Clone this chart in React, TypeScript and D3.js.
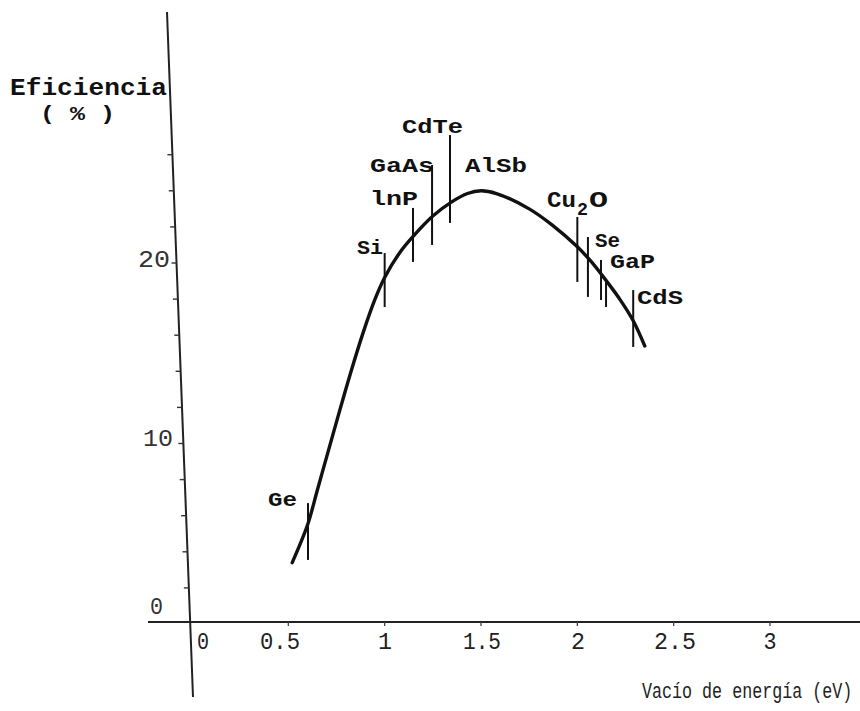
import React from 'react';
import * as d3 from 'd3';

// ---------- data ----------
const xTickValues = [0, 0.5, 1, 1.5, 2, 2.5, 3];
const xTickLabels = ['0', '0.5', '1', '1.5', '2', '2.5', '3'];
const yTickValues = [2, 4, 6, 8, 10, 12, 14, 16, 18, 20, 22, 24, 26];
const yLabelValues = [0, 10, 20];
const yLabelTexts = ['0', '10', '20'];

// efficiency curve (band gap eV, efficiency %)
const curveGap = [0.52, 0.6, 0.65, 0.7, 0.75, 0.82, 0.89, 0.95, 1.0, 1.08, 1.15, 1.25, 1.35, 1.43, 1.5, 1.58, 1.75, 1.87, 2.0, 2.07, 2.13, 2.22, 2.29, 2.35];
const curveEff = [3.4, 5.5, 7.4, 9.3, 11.2, 13.8, 16.2, 18.0, 19.2, 20.6, 21.5, 22.6, 23.4, 23.85, 24.0, 23.85, 23.0, 22.1, 20.9, 20.1, 19.3, 18.0, 16.8, 15.4];

// material markers (vertical strokes across the curve)
const markMaterial = ['Ge', 'Si', 'InP', 'GaAs', 'CdTe', 'Cu2O', 'Se', 'GaP', 'GaP', 'CdS'];
const markGap = [0.602, 1.0, 1.147, 1.246, 1.339, 2.0, 2.055, 2.123, 2.149, 2.29];
const markTop = [6.7, 20.55, 23.05, 25.43, 27.09, 22.55, 21.44, 20.17, 19.06, 18.5];
const markBottom = [3.55, 17.56, 20.06, 21.0, 22.22, 18.95, 18.12, 17.95, 17.56, 15.35];

// material labels
const labelTexts = ['Ge', 'Si', 'lnP', 'GaAs', 'CdTe', 'AlSb', 'Se', 'GaP', 'CdS'];

// ---------- layout ----------
const W = 860;
const H = 711;
const FONT = "'Liberation Mono', 'Courier New', monospace";
const labelLayout = [
  { x: 268, y: 506, w: 29 },
  { x: 357, y: 254, w: 26 },
  { x: 370, y: 205, w: 48 },
  { x: 370, y: 172, w: 64 },
  { x: 402, y: 133, w: 61 },
  { x: 465, y: 172, w: 62 },
  { x: 595, y: 247, w: 25 },
  { x: 610, y: 268, w: 45 },
  { x: 637, y: 304, w: 46 },
];
const xLabelLayout = [
  { x: 203, w: 12 }, { x: 280, w: 40 }, { x: 385, w: 14 }, { x: 482, w: 38 },
  { x: 578, w: 14 }, { x: 675, w: 42 }, { x: 770, w: 13 },
];
const yLabelLayout = [
  { x: 163, dy: -10, w: 13 }, { x: 173, dy: 2, w: 30 }, { x: 170, dy: 4, w: 32 },
];

const xScale = d3.scaleLinear().domain([0, 3]).range([192, 770]);
const yScale = d3.scaleLinear().domain([0, 20]).range([624, 263]);

// slightly slanted vertical axis (as in the scanned original)
const axisTop = { x: 167, y: 12 };
const axisBot = { x: 193, y: 697 };
const axisXAt = (y: number) => axisTop.x + ((y - axisTop.y) * (axisBot.x - axisTop.x)) / (axisBot.y - axisTop.y);

export default function App() {
  const pts: [number, number][] = curveGap.map((g, i) => [g, curveEff[i]]);
  const line = d3
    .line<[number, number]>()
    .x((d) => xScale(d[0]))
    .y((d) => yScale(d[1]))
    .curve(d3.curveCatmullRom.alpha(0.5));
  const xAxisY = yScale(0) - 2;

  return (
    <svg
      width={W}
      height={H}
      viewBox={`0 0 ${W} ${H}`}
      style={{ position: 'absolute', left: 0, top: 0, background: '#fff' }}
    >
      <rect x={0} y={0} width={W} height={H} fill="#fff" />

      {/* y axis */}
      <line x1={axisTop.x} y1={axisTop.y} x2={axisBot.x} y2={axisBot.y} stroke="#222" strokeWidth={2} />
      {yTickValues.map((v) => {
        const y = yScale(v);
        const ax = axisXAt(y);
        return <line key={'yt' + v} x1={ax - 5} y1={y} x2={ax} y2={y} stroke="#333" strokeWidth={1.4} />;
      })}
      {yLabelValues.map((v, i) => (
        <text
          key={'yl' + v}
          x={yLabelLayout[i].x}
          y={yScale(v) + yLabelLayout[i].dy}
          textAnchor="end"
          fontFamily={FONT}
          fontSize={23}
          fill="#333"
          textLength={yLabelLayout[i].w}
          lengthAdjust="spacingAndGlyphs"
        >
          {yLabelTexts[i]}
        </text>
      ))}
      <text x={10} y={95} fontFamily={FONT} fontSize={23} fontWeight="bold" fill="#111" textLength={157} lengthAdjust="spacingAndGlyphs">
        Eficiencia
      </text>
      <text x={40} y={120} fontFamily={FONT} fontSize={21} fontWeight="bold" fill="#111" textLength={75} lengthAdjust="spacingAndGlyphs">
        ( % )
      </text>

      {/* x axis */}
      <line x1={148} y1={xAxisY} x2={W} y2={xAxisY} stroke="#222" strokeWidth={2} />
      {xTickValues.slice(1).map((v) => (
        <line key={'xt' + v} x1={xScale(v)} y1={xAxisY} x2={xScale(v)} y2={xAxisY + 4} stroke="#444" strokeWidth={1.3} />
      ))}
      {xTickValues.map((v, i) => (
        <text
          key={'xl' + v}
          x={xLabelLayout[i].x}
          y={649}
          textAnchor="middle"
          fontFamily={FONT}
          fontSize={24}
          fill="#222"
          textLength={xLabelLayout[i].w}
          lengthAdjust="spacingAndGlyphs"
        >
          {xTickLabels[i]}
        </text>
      ))}
      <text transform="translate(642,698) scale(1,1.3)" x={0} y={0} fontFamily={FONT} fontSize={16.7} fill="#222">
        Vacío de energía (eV)
      </text>

      {/* curve */}
      <path d={line(pts) || ''} fill="none" stroke="#111" strokeWidth={3.4} strokeLinecap="round" strokeLinejoin="round" />

      {/* material markers */}
      {markGap.map((g, i) => (
        <line
          key={'m' + i + markMaterial[i]}
          x1={xScale(g)}
          y1={yScale(markTop[i])}
          x2={xScale(g)}
          y2={yScale(markBottom[i])}
          stroke="#111"
          strokeWidth={2}
        />
      ))}

      {/* material labels */}
      {labelTexts.map((t, i) => (
        <text
          key={'lb' + t}
          x={labelLayout[i].x}
          y={labelLayout[i].y}
          fontFamily={FONT}
          fontSize={21}
          fontWeight="bold"
          fill="#111"
          textLength={labelLayout[i].w}
          lengthAdjust="spacingAndGlyphs"
        >
          {t}
        </text>
      ))}
      {/* Cu2O with subscript */}
      <text x={547} y={207} fontFamily={FONT} fontSize={22} fontWeight="bold" fill="#111" textLength={29} lengthAdjust="spacingAndGlyphs">
        Cu
      </text>
      <text x={577} y={215} fontFamily={FONT} fontSize={19} fontWeight="bold" fill="#111" textLength={11} lengthAdjust="spacingAndGlyphs">
        2
      </text>
      <text x={589} y={207} fontFamily={FONT} fontSize={22} fontWeight="bold" fill="#111" textLength={19} lengthAdjust="spacingAndGlyphs">
        O
      </text>
    </svg>
  );
}
